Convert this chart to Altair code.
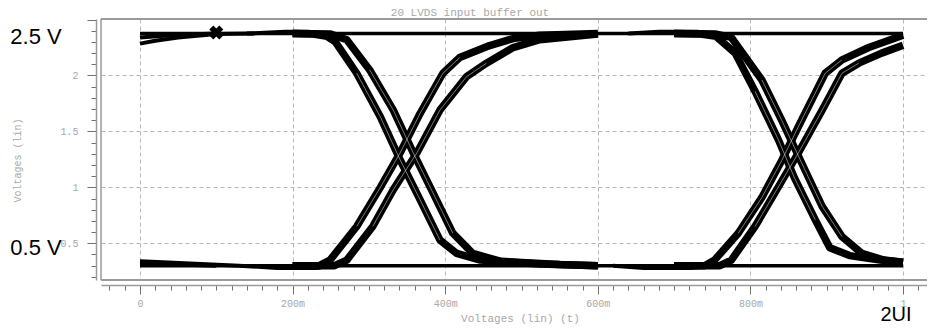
import altair as alt
import pandas as pd

# ---------------- data ----------------
X_MIN, X_MAX = -0.0511, 1.0314          # time axis domain (s)
Y_MIN, Y_MAX = 0.172, 2.505             # voltage axis domain (V)

X_TICKS = [round(-0.04 + 0.02 * i, 2) for i in range(54)]
Y_TICKS = [round(0.2 + 0.1 * i, 1) for i in range(24)]

TITLE = "20 LVDS input buffer out"
X_TITLE = "Voltages (lin) (t)"
Y_TITLE = "Voltages (lin)"
ANNOT_HI = "2.5 V"
ANNOT_LO = "0.5 V"
ANNOT_UI = "2UI"

# flat high / low levels
HIGH_T = [0.0, 1.0]
HIGH_V = [2.375, 2.375]
LOW_T = [0.0, 1.0]
LOW_V = [0.30, 0.30]

# start-up settling traces
START_HI_A_T = [0.0, 0.02, 0.05, 0.10, 0.15]
START_HI_A_V = [2.285, 2.31, 2.34, 2.37, 2.375]
START_HI_B_T = [0.0, 0.04, 0.10]
START_HI_B_V = [2.34, 2.36, 2.375]
START_LO_A_T = [0.0, 0.03, 0.08, 0.13]
START_LO_A_V = [0.34, 0.33, 0.315, 0.30]
START_LO_B_T = [0.0, 0.05, 0.10]
START_LO_B_V = [0.315, 0.31, 0.30]

# small overshoots before each transition
HI_BUMP1_T = [0.14, 0.19, 0.22, 0.25]
HI_BUMP1_V = [2.375, 2.39, 2.39, 2.37]
LO_DIP1_T = [0.13, 0.18, 0.23, 0.25]
LO_DIP1_V = [0.30, 0.28, 0.28, 0.30]
HI_BUMP2_T = [0.64, 0.68, 0.73, 0.76]
HI_BUMP2_V = [2.375, 2.39, 2.39, 2.37]
LO_DIP2_T = [0.62, 0.66, 0.72, 0.75]
LO_DIP2_V = [0.30, 0.28, 0.28, 0.30]

# first transition
FALL1_A_T = [0.20, 0.227, 0.245, 0.256, 0.284, 0.315, 0.341, 0.367, 0.393, 0.415, 0.446, 0.524, 0.60]
FALL1_A_V = [2.375, 2.37, 2.35, 2.30, 2.02, 1.63, 1.245, 0.89, 0.53, 0.41, 0.35, 0.315, 0.30]
FALL1_B_T = [0.20, 0.25, 0.271, 0.301, 0.332, 0.358, 0.384, 0.41, 0.436, 0.472, 0.55, 0.60]
FALL1_B_V = [2.375, 2.37, 2.32, 2.05, 1.69, 1.31, 0.95, 0.59, 0.41, 0.34, 0.31, 0.30]
RISE1_C_T = [0.20, 0.235, 0.249, 0.284, 0.315, 0.341, 0.367, 0.397, 0.419, 0.455, 0.489, 0.524, 0.60]
RISE1_C_V = [0.30, 0.30, 0.35, 0.65, 1.00, 1.31, 1.66, 2.02, 2.16, 2.26, 2.33, 2.36, 2.375]
RISE1_D_T = [0.20, 0.255, 0.271, 0.305, 0.332, 0.363, 0.393, 0.428, 0.454, 0.489, 0.524, 0.60]
RISE1_D_V = [0.30, 0.30, 0.35, 0.65, 0.98, 1.31, 1.69, 1.99, 2.11, 2.25, 2.32, 2.37]

# second transition
FALL2_A_T = [0.70, 0.735, 0.755, 0.78, 0.806, 0.837, 0.858, 0.885, 0.904, 0.93, 0.97, 1.0]
FALL2_A_V = [2.375, 2.37, 2.35, 2.20, 1.86, 1.42, 1.08, 0.71, 0.46, 0.39, 0.35, 0.33]
FALL2_B_T = [0.70, 0.755, 0.775, 0.815, 0.841, 0.867, 0.894, 0.92, 0.946, 0.975, 1.0]
FALL2_B_V = [2.375, 2.37, 2.34, 1.96, 1.60, 1.22, 0.83, 0.56, 0.41, 0.35, 0.33]
RISE2_C_T = [0.70, 0.74, 0.753, 0.784, 0.815, 0.841, 0.867, 0.898, 0.92, 0.955, 1.0]
RISE2_C_V = [0.30, 0.30, 0.35, 0.59, 0.91, 1.24, 1.60, 2.02, 2.14, 2.25, 2.36]
RISE2_D_T = [0.70, 0.76, 0.775, 0.806, 0.832, 0.863, 0.894, 0.92, 0.942, 0.972, 1.0]
RISE2_D_V = [0.30, 0.30, 0.35, 0.65, 0.95, 1.31, 1.69, 2.02, 2.11, 2.20, 2.27]

MARK_T = [0.10]
MARK_V = [2.385]

FRAME_H_V = [Y_MIN, Y_MAX]
FRAME_V_T = [X_MIN]


def table(traces):
    rows = []
    for name, ts, vs in traces:
        for i, (t, v) in enumerate(zip(ts, vs)):
            rows.append({"trace": name, "i": i, "t": t, "v": v})
    return pd.DataFrame(rows)


flat_df = table([("hi", HIGH_T, HIGH_V), ("lo", LOW_T, LOW_V)])
start_df = table([
    ("sha", START_HI_A_T, START_HI_A_V), ("shb", START_HI_B_T, START_HI_B_V),
    ("sla", START_LO_A_T, START_LO_A_V), ("slb", START_LO_B_T, START_LO_B_V),
    ("hb1", HI_BUMP1_T, HI_BUMP1_V), ("ld1", LO_DIP1_T, LO_DIP1_V),
    ("hb2", HI_BUMP2_T, HI_BUMP2_V), ("ld2", LO_DIP2_T, LO_DIP2_V),
])
edge_df = table([
    ("f1a", FALL1_A_T, FALL1_A_V), ("f1b", FALL1_B_T, FALL1_B_V),
    ("r1c", RISE1_C_T, RISE1_C_V), ("r1d", RISE1_D_T, RISE1_D_V),
    ("f2a", FALL2_A_T, FALL2_A_V), ("f2b", FALL2_B_T, FALL2_B_V),
    ("r2c", RISE2_C_T, RISE2_C_V), ("r2d", RISE2_D_T, RISE2_D_V),
])
mark_df = pd.DataFrame({"t": MARK_T, "v": MARK_V})
frame_h_df = pd.DataFrame({"v": FRAME_H_V})
frame_v_df = pd.DataFrame({"t": FRAME_V_T})

# ---------------- axes ----------------
MONO = "Liberation Mono"
GREY_TXT = "#a8a8a8"
MAJOR_X = "abs(datum.value*5 - round(datum.value*5)) < 0.001"
MAJOR_Y = "abs(datum.value*2 - round(datum.value*2)) < 0.001"

x_axis = alt.Axis(
    values=X_TICKS, offset=5,
    domainColor="#9a9a9a", domainWidth=1.5,
    tickColor="#707070", tickWidth=1,
    tickSize={"condition": {"test": MAJOR_X, "value": 9}, "value": 5},
    labelExpr=("abs(datum.value*5 - round(datum.value*5)) < 0.001 && datum.value > -0.01 ? "
               "(abs(datum.value) < 0.001 ? '0' : abs(datum.value - 1) < 0.001 ? '1' : "
               "format(round(datum.value*1000), 'd') + 'm') : ''"),
    labelFont=MONO, labelFontSize=10, labelColor=GREY_TXT, labelPadding=4,
    labelOverlap=False, labelFlush=False,
    grid=True, gridColor="#b8b8b8", gridDash=[4, 3], gridWidth=1,
    gridOpacity={"condition": {"test": MAJOR_X + " && datum.value > -0.01", "value": 1}, "value": 0},
    title=X_TITLE, titleFont=MONO, titleFontSize=11, titleFontWeight="normal",
    titleColor=GREY_TXT, titleX=419, titleY=33, titleBaseline="middle", titleAlign="center",
)

y_axis = alt.Axis(
    values=Y_TICKS, offset=5,
    domainColor="#9a9a9a", domainWidth=1.5,
    tickColor="#707070", tickWidth=1,
    tickSize={"condition": {"test": MAJOR_Y, "value": 9}, "value": 5},
    labelExpr=("abs(datum.value*2 - round(datum.value*2)) < 0.001 && datum.value < 2.45 ? "
               "'' + datum.value : ''"),
    labelFont=MONO, labelFontSize=10, labelColor=GREY_TXT, labelPadding=9,
    labelOverlap=False, labelFlush=False,
    grid=True, gridColor="#b8b8b8", gridDash=[4, 3], gridWidth=1,
    gridOpacity={"condition": {"test": MAJOR_Y + " && datum.value < 2.45", "value": 1}, "value": 0},
    title=Y_TITLE, titleFont=MONO, titleFontSize=10, titleFontWeight="normal",
    titleColor=GREY_TXT, titleX=-79, titleY=141, titleBaseline="middle", titleAlign="center",
)

x_enc = alt.X("t:Q", scale=alt.Scale(domain=[X_MIN, X_MAX], nice=False, zero=False), axis=x_axis)
y_enc = alt.Y("v:Q", scale=alt.Scale(domain=[Y_MIN, Y_MAX], nice=False, zero=False), axis=y_axis)

# ---------------- layers ----------------
frame_h = alt.Chart(frame_h_df).mark_rule(color="#9a9a9a", strokeWidth=1.8).encode(y=y_enc)
frame_v = alt.Chart(frame_v_df).mark_rule(color="#9a9a9a", strokeWidth=1.5).encode(x=x_enc)

flat = alt.Chart(flat_df).mark_line(color="black", strokeWidth=3.5).encode(
    x=x_enc, y=y_enc, detail="trace:N", order="i:Q")
start = alt.Chart(start_df).mark_line(color="black", strokeWidth=4, strokeJoin="round").encode(
    x=x_enc, y=y_enc, detail="trace:N", order="i:Q")
edges = alt.Chart(edge_df).mark_line(color="black", strokeWidth=7.5, strokeJoin="round").encode(
    x=x_enc, y=y_enc, detail="trace:N", order="i:Q")
hair = alt.Chart(edge_df).transform_filter("datum.v > 0.5 && datum.v < 2.2").mark_line(
    color="white", strokeWidth=0.8, opacity=0.6).encode(
    x=x_enc, y=y_enc, detail="trace:N", order="i:Q")
marker = alt.Chart(mark_df).mark_point(shape="cross", angle=45, filled=True, color="black",
                                        size=200, opacity=1).encode(x=x_enc, y=y_enc)

def label(text, x, y, size, font, color, baseline="middle"):
    return alt.Chart(pd.DataFrame({"label": [text]})).mark_text(
        font=font, fontSize=size, color=color, align="center", baseline=baseline).encode(
        text="label:N", x=alt.value(x), y=alt.value(y))

title_txt = label(TITLE, 369, -3, 11, MONO, GREY_TXT, baseline="alphabetic")
hi_txt = label(ANNOT_HI, -65, 18, 22, "Liberation Sans", "black")
lo_txt = label(ANNOT_LO, -65, 229, 22, "Liberation Sans", "black")
ui_txt = label(ANNOT_UI, 795, 296, 20, "Liberation Sans", "black")

chart = alt.layer(
    frame_h, frame_v, flat, start, edges, hair, marker,
    title_txt, hi_txt, lo_txt, ui_txt,
).properties(
    width=826, height=261,
    autosize=alt.AutoSizeParams(type="none"),
    padding={"left": 93, "top": 11, "right": 0, "bottom": 44},
    background="white",
).configure_view(strokeWidth=0)

chart.save("out.html", embed_options={"renderer": "svg", "actions": False})
